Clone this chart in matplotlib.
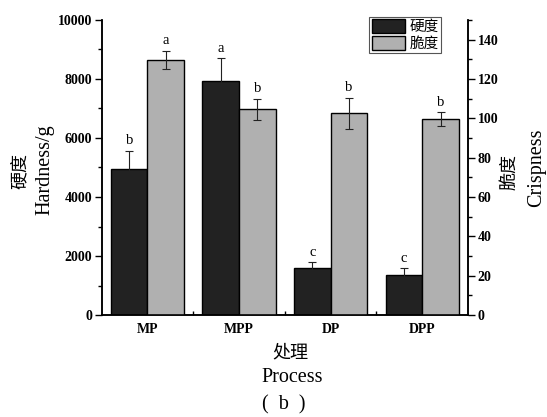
import matplotlib
matplotlib.use("Agg")
import matplotlib.pyplot as plt
from matplotlib.ticker import MultipleLocator, FixedLocator
from matplotlib.patches import Patch
import numpy as np

categories = ["MP", "MPP", "DP", "DPP"]
hardness = [4950, 7940, 1600, 1360]
hardness_err = [620, 770, 180, 230]
crisp = [129.6, 104.6, 102.5, 99.5]
crisp_err = [4.7, 5.4, 8.0, 3.6]
hard_letters = ["b", "a", "c", "c"]
crisp_letters = ["a", "b", "b", "b"]
legend_labels = ["硬度", "脆度"]

SERIF = "Liberation Serif"
CJK = ["Noto Sans CJK SC", "DejaVu Sans"]

fig = plt.figure(figsize=(5.47, 4.17), dpi=100)
ax = fig.add_axes([101.7/547, 1-315/417, (468-101.7)/547, (315-20)/417])
ax2 = ax.twinx()

x = np.arange(len(categories))
w = 0.4
dark = "#222222"
light = "#b0b0b0"

ax.bar(x - w/2, hardness, w, color=dark, edgecolor="black", linewidth=1.0, zorder=2)
ax.errorbar(x - w/2, hardness, yerr=hardness_err, fmt="none", ecolor="#222222",
            elinewidth=0.8, capsize=3, capthick=0.8, zorder=3)
ax2.bar(x + w/2, crisp, w, color=light, edgecolor="black", linewidth=1.0, zorder=2)
ax2.errorbar(x + w/2, crisp, yerr=crisp_err, fmt="none", ecolor="#222222",
             elinewidth=0.8, capsize=3, capthick=0.8, zorder=3)

for xi, v, e, t in zip(x - w/2, hardness, hardness_err, hard_letters):
    ax.text(xi, v + e + 120, t, ha="center", va="bottom", fontsize=10.5, family=SERIF)
for xi, v, e, t in zip(x + w/2, crisp, crisp_err, crisp_letters):
    ax2.text(xi, v + e + 1.8, t, ha="center", va="bottom", fontsize=10.5, family=SERIF)

ax.set_xlim(-0.5, 3.5)
ax.set_ylim(0, 10000)
ax2.set_ylim(0, 150)

ax.yaxis.set_major_locator(MultipleLocator(2000))
ax.yaxis.set_minor_locator(MultipleLocator(1000))
ax2.yaxis.set_major_locator(FixedLocator([0, 20, 40, 60, 80, 100, 120, 140]))
ax2.yaxis.set_minor_locator(MultipleLocator(10))

ax.set_xticks(x)
ax.set_xticklabels(categories)
ax.xaxis.set_minor_locator(FixedLocator([0.5, 1.5, 2.5]))
ax.tick_params(axis="x", which="major", length=0, pad=6)
ax.tick_params(axis="x", which="minor", direction="in", length=3, width=1)
ax.tick_params(axis="y", which="major", direction="out", length=5, width=1, pad=2)
ax.tick_params(axis="y", which="minor", direction="out", length=3, width=1)
ax2.tick_params(axis="y", which="major", direction="out", length=5, width=1, pad=2)
ax2.tick_params(axis="y", which="minor", direction="out", length=3, width=1)

for a in (ax, ax2):
    a.spines["top"].set_visible(False)
    for s in ("left", "right", "bottom"):
        a.spines[s].set_linewidth(1.1)
    for lab in a.get_yticklabels() + a.get_xticklabels():
        lab.set_fontfamily(SERIF)
        lab.set_fontweight("bold")
        lab.set_fontsize(10)

# axis labels
fig.text(20/547, 1-171/417, "硬度", rotation=90, ha="center", va="center", fontsize=13, family=CJK)
fig.text(45/547, 1-170/417, "Hardness/g", rotation=90, ha="center", va="center", fontsize=14.5, family=SERIF)
fig.text(509/547, 1-172/417, "脆度", rotation=90, ha="center", va="center", fontsize=13, family=CJK)
fig.text(537/547, 1-168/417, "Crispness", rotation=90, ha="center", va="center", fontsize=14.5, family=SERIF)
fig.text(290/547, 1-352/417, "处理", ha="center", va="center", fontsize=13, family=CJK)
fig.text(292/547, 1-378/417, "Process", ha="center", va="center", fontsize=14.5, family=SERIF)
fig.text(284/547, 1-405/417, "(  b  )", ha="center", va="center", fontsize=14.5, family=SERIF)

handles = [Patch(facecolor=dark, edgecolor="black"), Patch(facecolor=light, edgecolor="black")]
leg = ax2.legend(handles, legend_labels, loc="upper right",
                 bbox_to_anchor=(441/547, 1-17/417), bbox_transform=fig.transFigure,
                 prop={"family": CJK, "size": 10.5}, fancybox=False, framealpha=1,
                 edgecolor="#555555", borderpad=0.15, labelspacing=0.15,
                 handlelength=2.3, handleheight=1.1, handletextpad=0.3, borderaxespad=0)
leg.get_frame().set_linewidth(0.8)

fig.savefig("out.png", dpi=100)
